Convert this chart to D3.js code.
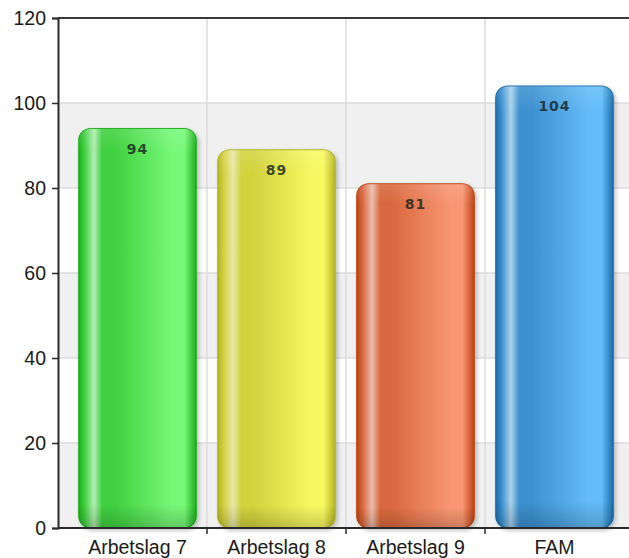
<!DOCTYPE html>
<html><head><meta charset="utf-8">
<script src="https://cdn.jsdelivr.net/npm/d3@7"></script>
<style>html,body{margin:0;padding:0;background:#fff;}svg{display:block;}</style>
</head><body>
<svg id="chart" width="629" height="558"></svg>
<script>
const categories = ["Arbetslag 7", "Arbetslag 8", "Arbetslag 9", "FAM"];
const values = [94, 89, 81, 104];
const yTicks = [0, 20, 40, 60, 80, 100, 120];
const palette = [
  {dark:"#1fae1f", base:"#40d040", light:"#78f878", hi:"#b4ecb4"},
  {dark:"#b4b424", base:"#d2d23e", light:"#f8f862", hi:"#e8e8ac"},
  {dark:"#bc4414", base:"#d8683e", light:"#f89672", hi:"#ecbcac"},
  {dark:"#1a6eae", base:"#3c90d0", light:"#64bcf8", hi:"#acd2ea"}
];

const svg = d3.select("#chart");
const mLeft = 58, mTop = 18, mBottom = 528, mRight = 629;
const y = d3.scaleLinear().domain([0, 120]).range([mBottom, mTop]);
const x = d3.scaleBand().domain(categories).range([68, 624]).paddingInner(0).paddingOuter(0);
const defs = svg.append("defs");

// background bands
const bandG = svg.append("g");
for (let i = 0; i < yTicks.length - 1; i++) {
  const a = yTicks[i], b = yTicks[i+1];
  if (i % 2 === 0) {
    bandG.append("rect").attr("x", mLeft).attr("width", mRight - mLeft)
      .attr("y", y(b)).attr("height", y(a) - y(b)).attr("fill", "#f0f0f0");
  }
}
// horizontal grid
svg.append("g").selectAll("line").data(yTicks.filter(d => d > 0 && d < 120)).join("line")
  .attr("x1", mLeft).attr("x2", mRight).attr("y1", d => y(d)).attr("y2", d => y(d))
  .attr("stroke", "#dcdcdc").attr("stroke-width", 1.5);
// vertical grid at category boundaries
const bounds = categories.slice(1).map(c => x(c));
svg.append("g").selectAll("line").data(bounds).join("line")
  .attr("x1", d => d).attr("x2", d => d).attr("y1", mTop).attr("y2", mBottom)
  .attr("stroke", "#dcdcdc").attr("stroke-width", 1.5);

// shadow filter
const f = defs.append("filter").attr("id", "sh").attr("x", "-10%").attr("y", "-10%").attr("width", "130%").attr("height", "130%");
f.append("feGaussianBlur").attr("in", "SourceAlpha").attr("stdDeviation", 2).attr("result", "b");
f.append("feOffset").attr("in", "b").attr("dx", 2).attr("dy", 2).attr("result", "o");
f.append("feComponentTransfer").attr("in", "o").attr("result", "o2")
  .append("feFuncA").attr("type", "linear").attr("slope", 0.25);
const fm = f.append("feMerge");
fm.append("feMergeNode").attr("in", "o2");
fm.append("feMergeNode").attr("in", "SourceGraphic");

palette.forEach((p, i) => {
  const g = defs.append("linearGradient").attr("id", "g" + i).attr("x1", 0).attr("x2", 1).attr("y1", 0).attr("y2", 0);
  [[0, p.dark],[0.05, p.base],[0.13, p.hi],[0.2, p.base],[0.3, p.base],[0.8, p.light],[0.9, p.light],[1, p.dark]]
    .forEach(([o, c]) => g.append("stop").attr("offset", o).attr("stop-color", c));
});
const vg = defs.append("linearGradient").attr("id", "vshade").attr("x1", 0).attr("x2", 0).attr("y1", 0).attr("y2", 1);
[[0, "#fff", 0.12],[0.06, "#fff", 0],[0.94, "#000", 0],[1, "#000", 0.18]]
  .forEach(([o, c, a]) => vg.append("stop").attr("offset", o).attr("stop-color", c).attr("stop-opacity", a));

const bw = x.bandwidth();
const barW = bw * 0.845;
const off = (bw - barW) / 2;
const barsG = svg.append("g");
categories.forEach((c, i) => {
  const x0 = x(c) + off, y0 = y(values[i]), h = y(0) - y(values[i]);
  barsG.append("rect").attr("x", x0).attr("y", y0).attr("width", barW).attr("height", h)
    .attr("rx", 12).attr("ry", 12).attr("fill", `url(#g${i})`)
    .attr("stroke", palette[i].dark).attr("stroke-width", 1.2).attr("filter", "url(#sh)");
  barsG.append("rect").attr("x", x0).attr("y", y0).attr("width", barW).attr("height", h)
    .attr("rx", 12).attr("ry", 12).attr("fill", "url(#vshade)");
  barsG.append("text").attr("x", x(c) + bw / 2).attr("y", y0 + 25)
    .attr("text-anchor", "middle").attr("font-family", "DejaVu Sans, sans-serif")
    .attr("font-weight", "bold").attr("font-size", 14).attr("letter-spacing", 1)
    .attr("fill", "rgba(20,30,30,0.8)").text(values[i]);
});

// top border
svg.append("line").attr("x1", mLeft).attr("x2", mRight).attr("y1", mTop).attr("y2", mTop)
  .attr("stroke", "#3a3a3a").attr("stroke-width", 2);

// y axis
const yAxis = d3.axisLeft(y).tickValues(yTicks).tickSize(6).tickPadding(6);
const ya = svg.append("g").attr("transform", `translate(${mLeft},0)`).call(yAxis);
ya.select(".domain").attr("stroke", "#2a2a2a").attr("stroke-width", 2);
ya.selectAll(".tick line").attr("stroke", "#2a2a2a").attr("stroke-width", 1.5);
ya.selectAll(".tick text").attr("font-family", "Liberation Sans, Arial, sans-serif")
  .attr("font-size", 19.5).attr("fill", "#1a1a1a");

// x axis
svg.append("line").attr("x1", mLeft).attr("x2", mRight).attr("y1", mBottom).attr("y2", mBottom)
  .attr("stroke", "#2a2a2a").attr("stroke-width", 2);
svg.append("g").selectAll("line").data(bounds).join("line")
  .attr("x1", d => d).attr("x2", d => d).attr("y1", mBottom).attr("y2", mBottom + 6)
  .attr("stroke", "#2a2a2a").attr("stroke-width", 1.5);
svg.append("g").selectAll("text").data(categories).join("text")
  .attr("x", d => x(d) + bw / 2).attr("y", 554).attr("text-anchor", "middle")
  .attr("font-family", "Liberation Sans, Arial, sans-serif").attr("font-size", 19.5)
  .attr("fill", "#1a1a1a").text(d => d);
</script>
</body></html>
